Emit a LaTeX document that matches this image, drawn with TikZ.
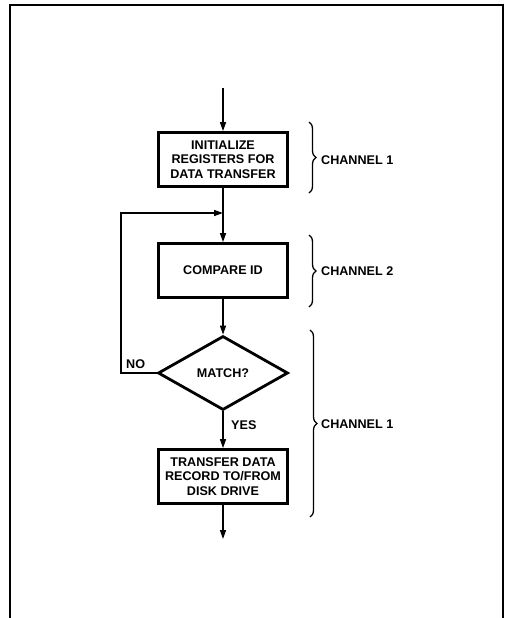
\documentclass[tikz,border=0pt]{standalone}
\usepackage{fontspec}
\setmainfont{Liberation Sans}
\usetikzlibrary{shapes.geometric,arrows.meta,decorations.pathreplacing}
\begin{document}
\begin{tikzpicture}[x=1pt,y=-1pt,
  font=\bfseries\fontsize{12.6}{14.4}\selectfont,
  procbox/.style={draw,rectangle,line width=2.8pt,align=center,inner sep=0pt,
    minimum width=129pt,minimum height=54pt},
  decide/.style={draw,diamond,line width=2.8pt,inner sep=0pt,
    minimum width=130pt,minimum height=74pt},
  flow/.style={line width=1.4pt,-{Triangle[length=9pt,width=6pt]}},
  plain/.style={line width=1.4pt},
  chbrace/.style={decorate,decoration={brace,amplitude=7pt},line width=1.3pt},
  chlabel/.style={anchor=west,inner sep=0pt}]
\useasboundingbox (0,0) rectangle (509,618);
% outer frame
\draw[line width=2pt] (10,618) -- (10,5) -- (503,5) -- (503,618);

% flow chart
\coordinate (start) at (223,88);
\node[procbox] (init) at (223,159.5) {INITIALIZE\\REGISTERS FOR\\DATA TRANSFER};
\coordinate (join) at (223,213);
\node[procbox] (cmp) at (223,270.5) {COMPARE ID};
\node[decide] (match) at (223,373) {MATCH?};
\node[procbox] (xfer) at (223,476.5) {TRANSFER DATA\\RECORD TO/FROM\\DISK DRIVE};
\coordinate (finish) at (223,539);
\coordinate (loopA) at (121,373);
\coordinate (loopB) at (121,213);

\draw[flow] (start) -- (init.north);
\draw[plain] (init.south) -- (join);
\draw[flow] (join) -- (cmp.north);
\draw[flow] (cmp.south) -- (match.north);
\draw[flow] (match.south) -- (xfer.north);
\draw[flow] (xfer.south) -- (finish);
\draw[flow] (match.west) -- (loopA) -- (loopB) -- (join);

\node[anchor=south west,inner sep=0pt] (no) at (126,369) {NO};
\node[anchor=west,inner sep=0pt] (yes) at (231,425) {YES};

% channel braces
\draw[chbrace] (309,122) -- (309,193);
\node[chlabel] (ch1a) at (321,160) {CHANNEL 1};
\draw[chbrace] (309,235) -- (309,307);
\node[chlabel] (ch2) at (321,271) {CHANNEL 2};
\draw[chbrace] (310,330) -- (310,517);
\node[chlabel] (ch1b) at (321,424) {CHANNEL 1};
\end{tikzpicture}
\end{document}
